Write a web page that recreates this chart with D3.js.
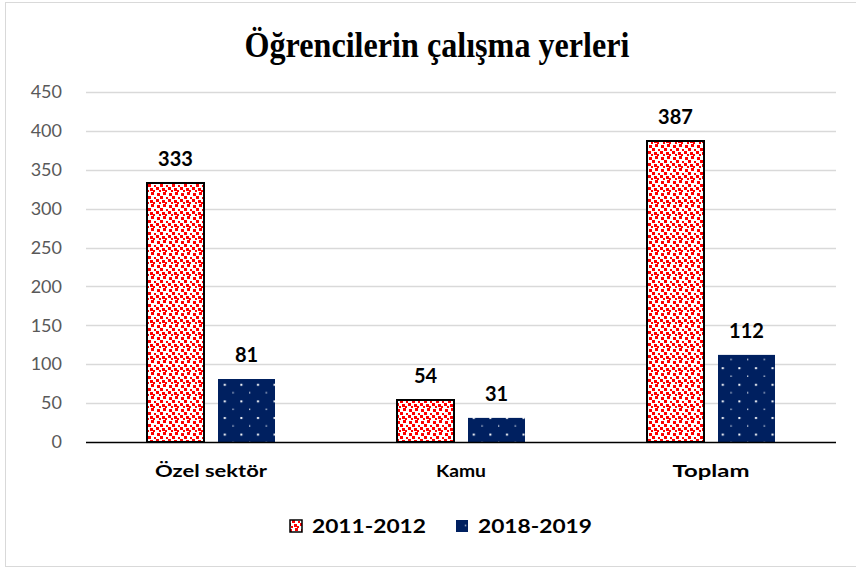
<!DOCTYPE html>
<html>
<head>
<meta charset="utf-8">
<script src="https://cdn.jsdelivr.net/npm/d3@7"></script>
<style>
  body { margin: 0; background: #fff; }
  text { font-family: Lato, "Open Sans", sans-serif; }
</style>
</head>
<body>
<div id="chart"></div>
<script>
// data
var categories = ["Özel sektör", "Kamu", "Toplam"];
var series = ["2011-2012", "2018-2019"];
var values_2011 = [333, 54, 387];
var values_2018 = [81, 31, 112];
var y_ticks = [0, 50, 100, 150, 200, 250, 300, 350, 400, 450];

var W = 856, H = 569;
var plot = {left: 86, right: 836, top: 92, bottom: 442};

var svg = d3.select("#chart").append("svg")
  .attr("width", W)
  .attr("height", H);

var defs = svg.append("defs");

// red confetti pattern
var pr = defs.append("pattern")
  .attr("id", "pat_red")
  .attr("patternUnits", "userSpaceOnUse")
  .attr("width", 12).attr("height", 12);
pr.append("rect").attr("width", 12).attr("height", 12).attr("fill", "#fff");
[[1,1,3],[7,0,3],[4,4,3],[10,5,2],[0,7,3],[6,8,3],[3,10,2],[9,10,2]].forEach(function(s){
  pr.append("rect").attr("x", s[0]).attr("y", s[1]).attr("width", s[2]).attr("height", s[2]).attr("fill", "#ff0000");
});

// navy dotted pattern
var pn = defs.append("pattern")
  .attr("id", "pat_navy")
  .attr("patternUnits", "userSpaceOnUse")
  .attr("width", 16.6).attr("height", 16.6);
pn.append("rect").attr("width", 16.6).attr("height", 16.6).attr("fill", "#002060");
pn.append("rect").attr("x", 8).attr("y", 2).attr("width", 2).attr("height", 2).attr("fill", "#fff");
pn.append("rect").attr("x", 0).attr("y", 10.3).attr("width", 1.3).attr("height", 1.3).attr("fill", "#dfe4ee");

// outer border
svg.append("rect")
  .attr("x", 5.5).attr("y", 2.5)
  .attr("width", W + 10).attr("height", 564)
  .attr("fill", "none")
  .attr("stroke", "#d9d9d9");

// title
svg.append("text")
  .attr("x", 437).attr("y", 57)
  .attr("text-anchor", "middle")
  .attr("textLength", 385)
  .attr("lengthAdjust", "spacingAndGlyphs")
  .style("font-family", "'Liberation Serif', 'DejaVu Serif', serif")
  .style("font-weight", "bold")
  .style("font-size", "35px")
  .text("Öğrencilerin çalışma yerleri");

var x0 = d3.scaleBand()
  .domain(categories)
  .range([plot.left, plot.right]);

var y = d3.scaleLinear()
  .domain([0, 450])
  .range([plot.bottom, plot.top]);

// gridlines
svg.append("g")
  .selectAll("line")
  .data(y_ticks.slice(1))
  .join("line")
  .attr("x1", plot.left).attr("x2", plot.right)
  .attr("y1", function(d){ return Math.round(y(d)) + 0.5; })
  .attr("y2", function(d){ return Math.round(y(d)) + 0.5; })
  .attr("stroke", "#d9d9d9")
  .attr("stroke-width", 1.3);

// y axis labels
var yAxis = d3.axisLeft(y).tickValues(y_ticks).tickSize(0).tickPadding(0);
var gy = svg.append("g")
  .attr("transform", "translate(" + 62 + ",0)")
  .call(yAxis);
gy.select(".domain").remove();
gy.selectAll("text")
  .style("font-family", "Lato, 'Open Sans', sans-serif")
  .style("font-size", "18px")
  .attr("fill", "#595959");

var barW = 57, gap = 14;
var rows = [];
categories.forEach(function(c, i){
  rows.push({cat: c, s: 0, v: values_2011[i]});
  rows.push({cat: c, s: 1, v: values_2018[i]});
});
function barX(d){
  var cx = x0(d.cat) + x0.bandwidth() / 2;
  return d.s === 0 ? cx - gap / 2 - barW : cx + gap / 2;
}

svg.append("g")
  .selectAll("rect")
  .data(rows)
  .join("rect")
  .attr("x", barX)
  .attr("y", function(d){ return y(d.v); })
  .attr("width", barW)
  .attr("height", function(d){ return y(0) - y(d.v); })
  .attr("fill", function(d){ return d.s === 0 ? "url(#pat_red)" : "url(#pat_navy)"; })
  .attr("stroke", function(d){ return d.s === 0 ? "#000" : "none"; })
  .attr("stroke-width", 2);

// value labels
svg.append("g")
  .selectAll("text")
  .data(rows)
  .join("text")
  .attr("x", function(d){ return barX(d) + barW / 2; })
  .attr("y", function(d){ return y(d.v) - 17; })
  .attr("text-anchor", "middle")
  .style("font-weight", "bold")
  .style("font-size", "20px")
  .attr("fill", "#000")
  .text(function(d){ return d.v; });

// x axis line
svg.append("line")
  .attr("x1", plot.left).attr("x2", plot.right)
  .attr("y1", plot.bottom + 0.5).attr("y2", plot.bottom + 0.5)
  .attr("stroke", "#000")
  .attr("stroke-width", 1.5);

// category labels (stretched a bit like the original)
var catWidths = [112, 50, 77];
svg.append("g")
  .selectAll("text")
  .data(categories)
  .join("text")
  .attr("x", function(d){ return x0(d) + x0.bandwidth() / 2; })
  .attr("y", 477)
  .attr("text-anchor", "middle")
  .attr("textLength", function(d, i){ return catWidths[i]; })
  .attr("lengthAdjust", "spacingAndGlyphs")
  .style("font-weight", "bold")
  .style("font-size", "17px")
  .attr("fill", "#000")
  .text(function(d){ return d; });

// legend
var legend = [
  {label: series[0], fill: "url(#pat_red)", stroke: "#000", x: 290},
  {label: series[1], fill: "url(#pat_navy)", stroke: "none", x: 456}
];
var lg = svg.append("g").selectAll("g").data(legend).join("g");
lg.append("rect")
  .attr("x", function(d){ return d.x; })
  .attr("y", 520)
  .attr("width", 12).attr("height", 12)
  .attr("fill", function(d){ return d.fill; })
  .attr("stroke", function(d){ return d.stroke; })
  .attr("stroke-width", 1.5);
lg.append("text")
  .attr("x", function(d){ return d.x + 22; })
  .attr("y", 533)
  .attr("textLength", 114)
  .attr("lengthAdjust", "spacingAndGlyphs")
  .style("font-weight", "bold")
  .style("font-size", "18px")
  .attr("fill", "#000")
  .text(function(d){ return d.label; });
</script>
</body>
</html>
